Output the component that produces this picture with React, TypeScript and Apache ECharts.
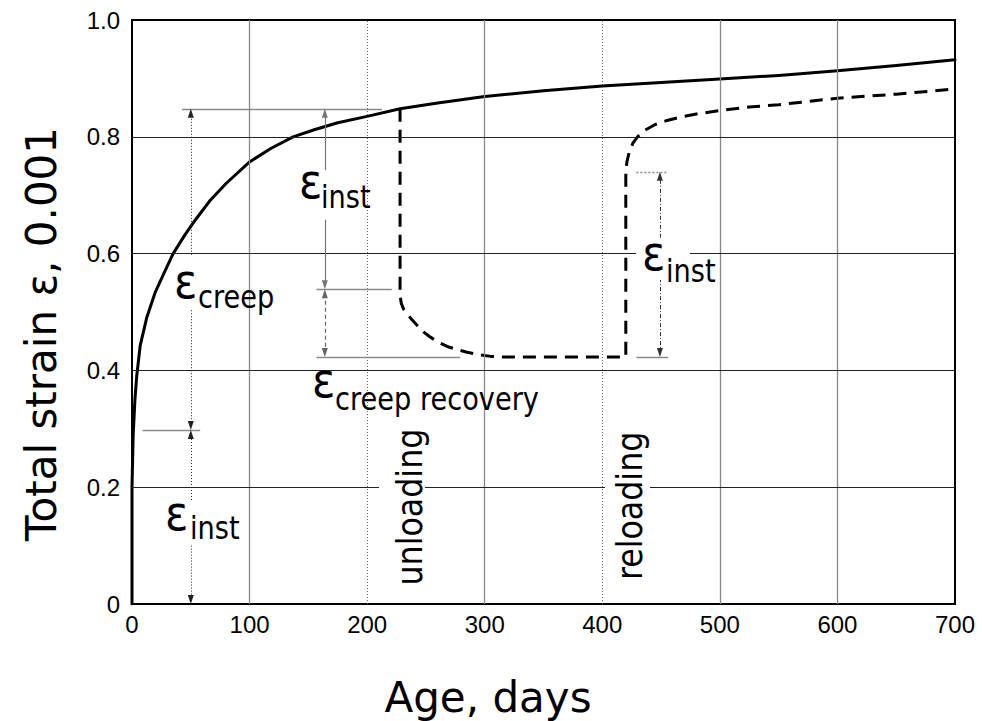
import React, { useEffect, useRef } from "react";
import * as echarts from "echarts";

// ---- axes ----
const xTickLabels = ["0", "100", "200", "300", "400", "500", "600", "700"];
const yTickLabels = ["0", "0.2", "0.4", "0.6", "0.8", "1.0"];
const xSolidGrid = [100, 300, 500, 600];
const xDottedGrid = [200, 400];
const yGrid = [0.2, 0.4, 0.6, 0.8];

// ---- sustained load (solid) ----
const creepDays = [0, 0, 1, 2.5, 4, 7, 12.5, 20, 28, 35, 45, 54, 66, 80, 100, 118, 137, 155, 175, 200, 228, 260, 300, 350, 400, 450, 500, 550, 600, 650, 700];
const creepStrain = [0, 0.2, 0.29, 0.35, 0.39, 0.443, 0.49, 0.535, 0.57, 0.6, 0.632, 0.658, 0.69, 0.72, 0.757, 0.78, 0.8, 0.812, 0.824, 0.835, 0.848, 0.858, 0.869, 0.879, 0.887, 0.893, 0.899, 0.905, 0.913, 0.922, 0.932];

// ---- unloading / reloading (dashed) ----
const cycleDays = [228, 228, 229, 231, 234, 238, 243, 248, 253, 260, 268, 276, 285, 295, 305, 315, 420, 420, 421, 423, 426, 430, 436, 445, 455, 467, 480, 500, 525, 550, 600, 650, 700];
const cycleStrain = [0.848, 0.53, 0.515, 0.505, 0.497, 0.487, 0.476, 0.466, 0.458, 0.449, 0.441, 0.436, 0.431, 0.427, 0.424, 0.423, 0.423, 0.74, 0.758, 0.774, 0.789, 0.8, 0.811, 0.821, 0.828, 0.834, 0.839, 0.845, 0.851, 0.855, 0.866, 0.873, 0.882];

// ---- annotation levels ----
const loadInst = 0.298;
const unloadTop = 0.848;
const unloadInstEnd = 0.539;
const recoveryEnd = 0.423;
const reloadTop = 0.74;

const TIP = 0.0077;
const ARROW: [number, number] = [6, 9];

function stem(x: number, from: number, to: number, aFrom: boolean, aTo: boolean, ls: any) {
  const dir = Math.sign(to - from);
  return [
    { coord: [x, aFrom ? from + dir * TIP : from], symbol: aFrom ? "triangle" : "none", symbolSize: ARROW, lineStyle: ls },
    { coord: [x, aTo ? to - dir * TIP : to], symbol: aTo ? "triangle" : "none", symbolSize: ARROW, lineStyle: ls },
  ];
}
function hline(y: number, x0: number, x1: number, ls: any) {
  return [
    { coord: [x0, y], symbol: "none", lineStyle: ls },
    { coord: [x1, y], symbol: "none", lineStyle: ls },
  ];
}

export default function App() {
  const ref = useRef<HTMLDivElement>(null);
  useEffect(() => {
    if (!ref.current) return;
    const chart = echarts.init(ref.current, null, { renderer: "svg" });

    const dotted = { color: "#222", width: 1, type: [1, 2] };
    const grayLine = { color: "#8a8a8a", width: 1.3, type: "solid" };
    const grayDot = { color: "#8a8a8a", width: 1.3, type: [2, 2] };
    const dashDot = { color: "#333", width: 1, type: [4, 2, 1, 2] };
    const graySolidStem = { color: "#777", width: 1.2, type: "solid" };
    const grayDashStem = { color: "#666", width: 1.2, type: [4, 3] };

    const option: any = {
      animation: false,
      backgroundColor: "#fff",
      grid: { left: 132, top: 20, right: 27, bottom: 117, show: true, borderColor: "#000", borderWidth: 2, backgroundColor: "transparent" },
      xAxis: {
        type: "value", min: 0, max: 700, interval: 100,
        axisLine: { show: true, onZero: false, lineStyle: { color: "#000", width: 2 } },
        axisTick: { show: false }, splitLine: { show: false },
        axisLabel: { color: "#000", fontFamily: "Liberation Sans, Arial, sans-serif", fontSize: 24, margin: 8,
          formatter: (_v: number, i: number) => xTickLabels[i] },
      },
      yAxis: {
        type: "value", min: 0, max: 1, interval: 0.2,
        axisLine: { show: true, onZero: false, lineStyle: { color: "#000", width: 2 } },
        axisTick: { show: false }, splitLine: { show: false },
        axisLabel: { color: "#000", fontFamily: "Liberation Sans, Arial, sans-serif", fontSize: 24, margin: 12,
          formatter: (_v: number, i: number) => yTickLabels[i] },
      },
      series: [
        {
          type: "line", data: [], z: 1, silent: true,
          markLine: {
            silent: true, symbol: "none", label: { show: false }, animation: false,
            data: [
              ...xSolidGrid.map((v) => ({ xAxis: v, lineStyle: { color: "#888", width: 1.3, type: "solid" } })),
              ...xDottedGrid.map((v) => ({ xAxis: v, lineStyle: { color: "#666", width: 1, type: [1, 2] } })),
              ...yGrid.map((v) => ({ yAxis: v, lineStyle: { color: "#222", width: 1, type: "solid" } })),
            ],
          },
        },
        {
          type: "line", data: [], z: 2, silent: true,
          markLine: {
            silent: true, symbol: "none", label: { show: false }, animation: false,
            data: [
              hline(loadInst, 9, 58, grayLine),
              hline(unloadTop, 42.5, 212.6, grayLine),
              hline(unloadInstEnd, 157, 221, grayLine),
              hline(recoveryEnd, 157, 279, grayLine),
              hline(reloadTop, 429, 456, grayDot),
              hline(recoveryEnd, 429, 456, grayLine),
              // initial instantaneous
              stem(50, 0.178, loadInst, false, true, dotted),
              stem(50, 0.1, 0, false, true, dotted),
              // creep
              stem(50, 0.598, unloadTop, false, true, dotted),
              stem(50, 0.503, loadInst, false, true, dotted),
              // instantaneous recovery
              stem(164, 0.743, unloadTop, false, true, graySolidStem),
              stem(164, 0.658, unloadInstEnd, false, true, graySolidStem),
              // creep recovery
              stem(164, unloadInstEnd, recoveryEnd, true, true, grayDashStem),
              // reloading instantaneous
              stem(449, 0.627, reloadTop, false, true, dashDot),
              stem(449, 0.558, recoveryEnd, false, true, dashDot),
            ],
          },
        },
        {
          type: "line", z: 3, showSymbol: false, silent: true,
          data: creepDays.map((d, i) => [d, creepStrain[i]]),
          lineStyle: { color: "#000", width: 3, cap: "round", join: "round" },
        },
        {
          type: "line", z: 3, showSymbol: false, silent: true,
          data: cycleDays.map((d, i) => [d, cycleStrain[i]]),
          lineStyle: { color: "#000", width: 3, type: [13, 8] },
        },
      ],
    };
    chart.setOption(option);

    const px = (d: number, v: number) => chart.convertToPixel({ gridIndex: 0 }, [d, v]) as number[];
    const FONT = "DejaVu Sans, Verdana, sans-serif";
    const C = 0.346;
    const g: any[] = [];

    const rect = (d0: number, v0: number, d1: number, v1: number) => {
      const a = px(d0, v0), b = px(d1, v1);
      g.push({ type: "rect", z: 100, silent: true, shape: { x: a[0], y: a[1], width: b[0] - a[0], height: b[1] - a[1] }, style: { fill: "#fff" } });
    };
    const eps = (ed: number, ev: number, sd: number, sv: number, sub: string) => {
      const e = px(ed, ev), s = px(sd, sv);
      g.push({ type: "text", z: 101, silent: true, x: e[0], y: e[1] - C * 48, scaleX: 0.9,
        style: { text: "ε", fontSize: 48, fontFamily: FONT, fill: "#000", align: "left", verticalAlign: "middle" } });
      g.push({ type: "text", z: 101, silent: true, x: s[0], y: s[1] - C * 32, scaleX: 0.85,
        style: { text: sub, fontSize: 32, fontFamily: FONT, fill: "#000", align: "left", verticalAlign: "middle" } });
    };
    const vtext = (bd: number, cv: number, t: string) => {
      const p = px(bd, cv);
      g.push({ type: "text", z: 101, silent: true, x: p[0] - C * 36, y: p[1], rotation: Math.PI / 2, scaleX: 0.88,
        style: { text: t, fontSize: 36, fontFamily: FONT, fill: "#000", align: "center", verticalAlign: "middle" } });
    };

    rect(210.1, 0.307, 249.2, 0.021);
    rect(402.3, 0.301, 440.6, 0.034);
    rect(428.7, 0.627, 474.6, 0.555);

    eps(28.1, 0.127, 49.3, 0.111, "inst");
    eps(35.7, 0.524, 56.1, 0.507, "creep");
    eps(142, 0.695, 160.8, 0.678, "inst");
    eps(153.1, 0.354, 172.7, 0.332, "creep recovery");
    eps(433.8, 0.572, 454.2, 0.551, "inst");

    vtext(246.7, 0.166, "unloading");
    vtext(433.8, 0.168, "reloading");

    g.push({ type: "text", z: 101, silent: true, x: 488, y: 712 - C * 42,
      style: { text: "Age, days", fontSize: 42, fontFamily: FONT, fill: "#000", align: "center", verticalAlign: "middle" } });
    g.push({ type: "text", z: 101, silent: true, x: 56 - C * 42, y: 334, rotation: Math.PI / 2,
      style: { text: "Total strain ε, 0.001", fontSize: 42, fontFamily: FONT, fill: "#000", align: "center", verticalAlign: "middle" } });

    chart.setOption({ graphic: g });
    return () => chart.dispose();
  }, []);

  return <div ref={ref} style={{ position: "fixed", left: 0, top: 0, width: 982, height: 721, background: "#fff" }} />;
}
